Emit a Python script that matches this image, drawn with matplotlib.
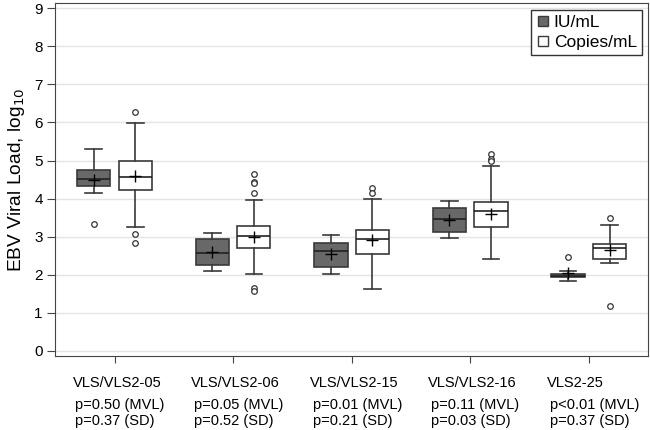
import matplotlib
matplotlib.use("Agg")
import matplotlib.pyplot as plt
import matplotlib.transforms as mtransforms
from matplotlib.lines import Line2D

plt.rcParams['font.family'] = ['Liberation Sans', 'DejaVu Sans']

# groups along the x axis
groups = ["VLS/VLS2-05", "VLS/VLS2-06", "VLS/VLS2-15", "VLS/VLS2-16", "VLS2-25"]
pvals_mvl = ["p=0.50 (MVL)", "p=0.05 (MVL)", "p=0.01 (MVL)", "p=0.11 (MVL)", "p<0.01 (MVL)"]
pvals_sd = ["p=0.37 (SD)", "p=0.52 (SD)", "p=0.21 (SD)", "p=0.03 (SD)", "p=0.37 (SD)"]

# IU/mL box stats (log10)
iu_whislo = [4.15, 2.10, 2.01, 2.97, 1.84]
iu_q1 = [4.34, 2.26, 2.21, 3.13, 1.93]
iu_med = [4.52, 2.57, 2.62, 3.46, 1.97]
iu_q3 = [4.76, 2.95, 2.83, 3.74, 2.02]
iu_whishi = [5.30, 3.09, 3.04, 3.93, 2.10]
iu_mean = [4.48, 2.59, 2.53, 3.44, 2.04]
iu_fliers = [[3.34], [], [], [], [2.47]]

# Copies/mL box stats (log10)
cp_whislo = [3.26, 2.02, 1.61, 2.41, 2.31]
cp_q1 = [4.23, 2.71, 2.53, 3.24, 2.41]
cp_med = [4.57, 3.02, 2.93, 3.67, 2.70]
cp_q3 = [4.98, 3.28, 3.18, 3.91, 2.80]
cp_whishi = [5.99, 3.97, 3.98, 4.85, 3.30]
cp_mean = [4.59, 3.00, 2.90, 3.59, 2.66]
cp_fliers = [[6.28, 3.07, 2.83], [4.65, 4.43, 4.40, 4.15, 1.66, 1.57],
             [4.27, 4.14], [5.18, 5.04, 4.99], [3.48, 1.17]]


def make_stats(whislo, q1, med, q3, whishi, mean, fliers):
    stats = []
    for i in range(len(med)):
        stats.append({"whislo": whislo[i], "q1": q1[i], "med": med[i], "q3": q3[i],
                      "whishi": whishi[i], "mean": mean[i], "fliers": fliers[i]})
    return stats


iu_stats = make_stats(iu_whislo, iu_q1, iu_med, iu_q3, iu_whishi, iu_mean, iu_fliers)
cp_stats = make_stats(cp_whislo, cp_q1, cp_med, cp_q3, cp_whishi, cp_mean, cp_fliers)

fig = plt.figure(figsize=(6.5, 4.3), dpi=100)
ax = fig.add_axes([0.085, 0.172, 0.912, 0.820])

edge = "#3a3a3a"
pos = list(range(len(groups)))
offset = 0.175
width = 0.28


def draw(stats, positions, fill):
    ax.bxp(stats, positions=positions, widths=width, showmeans=True, patch_artist=True,
           boxprops=dict(facecolor=fill, edgecolor=edge, linewidth=1.2),
           medianprops=dict(color="#222222", linewidth=1.2),
           whiskerprops=dict(color=edge, linewidth=1.2),
           capprops=dict(color=edge, linewidth=1.2),
           capwidths=width * 0.5,
           meanprops=dict(marker="+", markeredgecolor="black", markersize=8, markeredgewidth=1.0),
           flierprops=dict(marker="o", markerfacecolor="white", markeredgecolor="#333333",
                           markersize=4, markeredgewidth=0.9),
           manage_ticks=False)


draw(iu_stats, [p - offset for p in pos], "#686868")
draw(cp_stats, [p + offset for p in pos], "white")

ax.set_xlim(-0.5, len(groups) - 0.5)
ax.set_ylim(-0.14, 9.13)
ax.set_yticks(range(0, 10))
ax.set_xticks(pos)
ax.set_xticklabels([])
ax.yaxis.grid(True, color="#e4e4e4", linewidth=1.0)
ax.set_axisbelow(True)
for s in ax.spines.values():
    s.set_color("#444444")
ax.tick_params(axis="y", labelsize=11, length=6, color="#444444", pad=3)
ax.tick_params(axis="x", length=5, color="#444444")
ax.set_ylabel("EBV Viral Load, log$_{10}$", fontsize=13.8, labelpad=5)

# group labels and p values below the axis (x in data units, y in figure units)
trans = mtransforms.blended_transform_factory(ax.transData, fig.transFigure)
for i in pos:
    ax.text(i - 0.355, 1 - 383 / 430, groups[i], transform=trans, ha="left", va="center", fontsize=10.5)
    ax.text(i - 0.33, 1 - 405 / 430, pvals_mvl[i], transform=trans, ha="left", va="center", fontsize=10.5)
    ax.text(i - 0.33, 1 - 421 / 430, pvals_sd[i], transform=trans, ha="left", va="center", fontsize=10.5)

handles = [Line2D([], [], marker="s", linestyle="none", markerfacecolor="#686868",
                  markeredgecolor=edge, markersize=7),
           Line2D([], [], marker="s", linestyle="none", markerfacecolor="white",
                  markeredgecolor=edge, markersize=7)]
leg = ax.legend(handles, ["IU/mL", "Copies/mL"], loc="upper right", fontsize=12.5,
                fancybox=False, framealpha=1, borderaxespad=0.35, handletextpad=0.2,
                handlelength=0.8, borderpad=0.3, labelspacing=0.3)
leg.get_frame().set_edgecolor("#333333")
leg.get_frame().set_linewidth(1.0)

fig.savefig("out.png", dpi=100)
